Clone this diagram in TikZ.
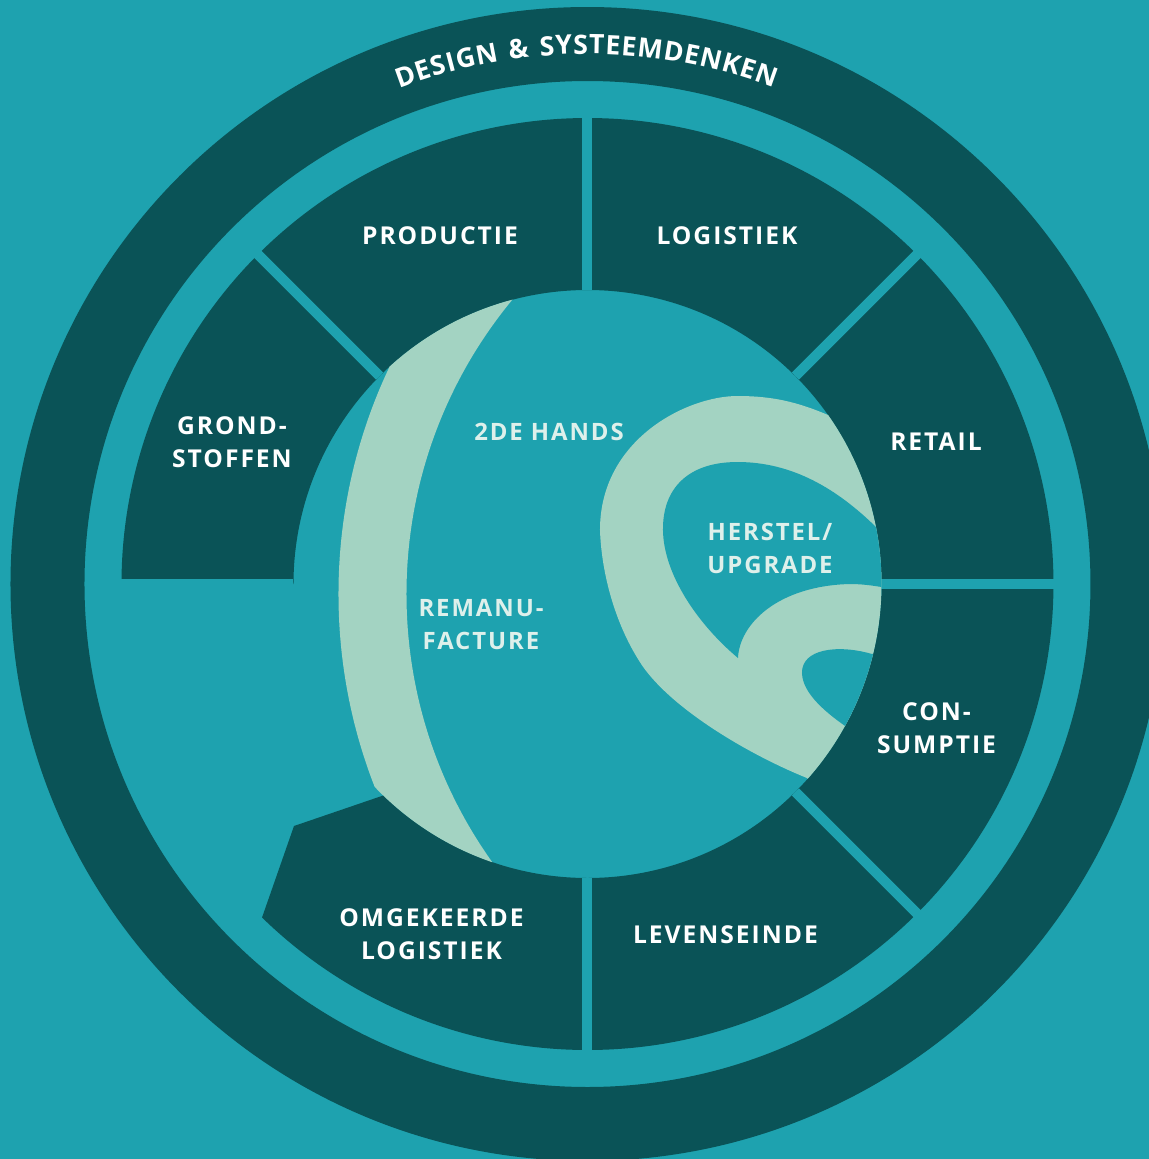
\documentclass[tikz,border=0pt]{standalone}
\usepackage{fontspec}
\setmainfont{Open Sans}
\newfontfamily\lblfont{Open Sans}[LetterSpace=8]
\usetikzlibrary{decorations.text}
\definecolor{bgteal}{RGB}{30,162,175}
\definecolor{darkteal}{RGB}{10,83,87}
\definecolor{mint}{RGB}{163,211,194}
\definecolor{lighttext}{RGB}{222,240,235}
\tikzset{
  seg/.style={fill=darkteal},
  gap/.style={draw=bgteal,line width=1mm},
  lbl/.style={text=white,align=center,font=\lblfont\bfseries\fontsize{7}{9.4}\selectfont},
  inlbl/.style={text=lighttext,align=center,font=\lblfont\bfseries\fontsize{6.8}{9.4}\selectfont}
}
\begin{document}
\begin{tikzpicture}[x=0.01cm,y=0.01cm]
\useasboundingbox (-587.5,-575) rectangle (561.5,584);
\fill[bgteal] (-587.5,-575) rectangle (561.5,584);
\fill[seg,even odd rule] (0,0) circle [radius=577] (0,0) circle [radius=503];
\path[decorate,decoration={text along path,text align={fit to path},text color=white,
  text={|\lblfont\bfseries\fontsize{7.6}{8}\selectfont|DESIGN {\&} SYSTEEMDENKEN}}]
  (110.8:530) arc [start angle=110.8,end angle=69.4,radius=530];
\foreach \a in {-90,-45,0,45,90,135}
  \fill[seg] (\a:466) arc [start angle=\a,end angle=\a+45,radius=466]
    -- (\a+45:294) arc [start angle=\a+45,end angle=\a,radius=294] -- cycle;
\fill[seg] (225.7:466) -- (-293.5,-242) -- (226:294)
  arc [start angle=226,end angle=270,radius=294] -- (270:466)
  arc [start angle=270,end angle=225.7,radius=466] -- cycle;
\foreach \a in {-90,-45,0,45,90,135,180}
  \draw[gap] (\a:294) -- (\a:480);
\begin{scope}
\clip (0,0) circle [radius=294];
\fill[mint,even odd rule] (281,-10) circle [radius=530] (281,-10) circle [radius=462];
\fill[mint] (240.5,169) .. controls (210,182) and (185,188) .. (150,188)
  .. controls (100,188) and (12.5,145) .. (12.5,54)
  .. controls (14,10) and (28,-42) .. (55,-82)
  .. controls (85,-125) and (160,-170) .. (219.5,-194)
  -- (260,-235) -- (340,0) -- (285,215) -- cycle;
\fill[bgteal] (289.5,56) .. controls (250,95) and (205,122) .. (150,122)
  .. controls (100,122) and (75,95) .. (75.5,54)
  .. controls (76,10) and (110,-40) .. (150.5,-74)
  .. controls (152,-40) and (190,-2) .. (262,0)
  .. controls (280,0) and (295,-3) .. (320,-8) -- (320,56) -- cycle;
\fill[bgteal] (320,-66) -- (284.5,-70) .. controls (250,-60) and (214,-65) .. (214.5,-89)
  .. controls (215,-110) and (240,-130) .. (262,-145) -- (320,-170) -- cycle;
\end{scope}
\node[lbl] (productie) at (-147.5,348) {PRODUCTIE};
\node[lbl] (logistiek) at (139.5,348) {LOGISTIEK};
\node[lbl] (grondstoffen) at (-355.5,142) {GROND-\\STOFFEN};
\node[lbl] (retail) at (348.5,142) {RETAIL};
\node[lbl] (consumptie) at (349,-144) {CON-\\SUMPTIE};
\node[lbl] (levenseinde) at (138,-351) {LEVENSEINDE};
\node[lbl] (omgekeerde) at (-156,-350.5) {OMGEKEERDE\\LOGISTIEK};
\node[inlbl] (tweedehands) at (-38.5,152.5) {2DE HANDS};
\node[inlbl] (remanufacture) at (-106.5,-41) {REMANU-\\FACTURE};
\node[inlbl] (herstel) at (182.5,36) {HERSTEL/\\UPGRADE};
\end{tikzpicture}
\end{document}
